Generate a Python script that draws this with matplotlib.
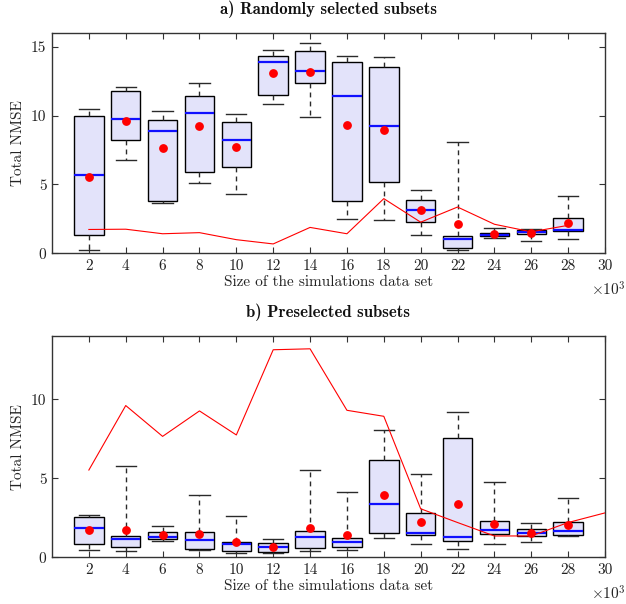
import matplotlib
matplotlib.use("Agg")
import matplotlib.pyplot as plt

plt.rcParams['font.family'] = ['cmr10', 'DejaVu Serif']
plt.rcParams['mathtext.fontset'] = 'cm'
plt.rcParams['axes.formatter.use_mathtext'] = True

sizes = [2, 4, 6, 8, 10, 12, 14, 16, 18, 20, 22, 24, 26, 28]
xticks = list(range(2, 31, 2))

# a) Randomly selected subsets
a_whislo = [0.24, 6.74, 3.66, 5.08, 4.31, 10.84, 9.92, 2.50, 2.43, 1.32, 0.24, 1.11, 0.92, 1.04]
a_q1     = [1.35, 8.23, 3.83, 5.90, 6.24, 11.53, 12.40, 3.78, 5.15, 2.26, 0.39, 1.25, 1.42, 1.59]
a_med    = [5.66, 9.78, 8.91, 10.21, 8.23, 13.89, 13.22, 11.41, 9.22, 3.18, 1.04, 1.35, 1.57, 1.71]
a_q3     = [9.94, 11.77, 9.66, 11.46, 9.51, 14.35, 14.71, 13.89, 13.53, 3.88, 1.23, 1.47, 1.66, 2.58]
a_whishi = [10.45, 12.09, 10.35, 12.40, 10.11, 14.78, 15.29, 14.35, 14.23, 4.62, 8.09, 1.81, 1.73, 4.17]
a_mean   = [5.51, 9.61, 7.68, 9.25, 7.75, 13.10, 13.20, 9.29, 8.93, 3.11, 2.14, 1.37, 1.44, 2.19]

# b) Preselected subsets
b_whislo = [0.47, 0.42, 1.06, 0.47, 0.25, 0.27, 0.40, 0.47, 1.21, 0.82, 0.55, 0.82, 0.97, 1.36]
b_q1     = [0.82, 0.66, 1.14, 0.55, 0.42, 0.36, 0.57, 0.66, 1.54, 1.44, 1.04, 1.48, 1.33, 1.40]
b_med    = [1.88, 1.18, 1.29, 1.10, 0.82, 0.63, 1.27, 0.99, 3.40, 1.56, 1.31, 1.71, 1.52, 1.67]
b_q3     = [2.54, 1.37, 1.61, 1.63, 0.95, 0.89, 1.65, 1.23, 6.15, 2.79, 7.53, 2.30, 1.78, 2.22]
b_whishi = [2.68, 5.79, 2.01, 3.91, 2.64, 1.14, 5.54, 4.10, 8.03, 5.29, 9.18, 4.76, 2.20, 3.76]
b_mean   = [1.73, 1.75, 1.42, 1.50, 0.99, 0.68, 1.88, 1.42, 3.97, 2.26, 3.36, 2.11, 1.56, 2.03]

# reference lines (mean of the other panel)
line_a_x = sizes
line_a_y = b_mean
line_b_x = xticks
line_b_y = [5.52, 9.60, 7.65, 9.26, 7.74, 13.13, 13.19, 9.30, 8.92, 3.07, 2.20, 1.35, 1.35, 2.20, 2.81]

titles = ["a) Randomly selected subsets", "b) Preselected subsets"]

W, H = 626, 604
fig = plt.figure(figsize=(W / 100, H / 100), dpi=100)
left = 52 / W
width = 553 / W
ax_a = fig.add_axes([left, 1 - 253.3 / H, width, 220.3 / H])
ax_b = fig.add_axes([left, 1 - 557.3 / H, width, 221.3 / H])

box_fill = '#e3e3fa'
FS = 11


def draw(ax, wlo, q1, med, q3, whi, mean, lx, ly, ylim, yticks, title, xy10):
    stats = []
    for i in range(len(sizes)):
        stats.append(dict(whislo=wlo[i], q1=q1[i], med=med[i], q3=q3[i],
                          whishi=whi[i], mean=mean[i], fliers=[]))
    ax.bxp(stats, positions=sizes, widths=1.6, capwidths=1.1,
           patch_artist=True, showmeans=True, manage_ticks=False,
           boxprops=dict(facecolor=box_fill, edgecolor='black', linewidth=1.0),
           medianprops=dict(color='#1010ff', linewidth=1.6),
           whiskerprops=dict(color='#2a2a2a', linewidth=1.0, linestyle=(0, (3.5, 3))),
           capprops=dict(color='#2a2a2a', linewidth=1.0),
           meanprops=dict(marker='o', markerfacecolor='red', markeredgecolor='red',
                          markersize=5.3))
    ax.plot(lx, ly, color='red', linewidth=0.8, zorder=4)
    ax.set_xlim(0, 30)
    ax.set_ylim(*ylim)
    ax.set_xticks(xticks)
    ax.set_xticklabels([str(t) for t in xticks])
    ax.set_yticks(yticks)
    ax.set_yticklabels([str(t) for t in yticks])
    ax.tick_params(direction='in', top=True, right=True, length=4, width=0.8,
                   labelsize=FS, colors='#333333', labelcolor='#222222', pad=4)
    for s in ax.spines.values():
        s.set_color('#333333')
        s.set_linewidth(1.0)
    ax.set_xlabel("Size of the simulations data set", fontsize=FS, color='#222222', labelpad=2)
    ax.set_ylabel("Total NMSE", fontsize=FS, color='#222222', labelpad=4)
    ax.set_title(title, fontsize=12, fontfamily='cmb10', pad=13.5, color='#111111')
    ax.text(1.037, xy10, r'$\times 10^3$', transform=ax.transAxes, fontsize=FS,
            ha='right', va='center', color='#222222')


draw(ax_a, a_whislo, a_q1, a_med, a_q3, a_whishi, a_mean, line_a_x, line_a_y,
     (0, 16), [0, 5, 10, 15], titles[0], -0.165)
draw(ax_b, b_whislo, b_q1, b_med, b_q3, b_whishi, b_mean, line_b_x, line_b_y,
     (0, 14), [0, 5, 10], titles[1], -0.165)

fig.savefig("out.png", dpi=100)
